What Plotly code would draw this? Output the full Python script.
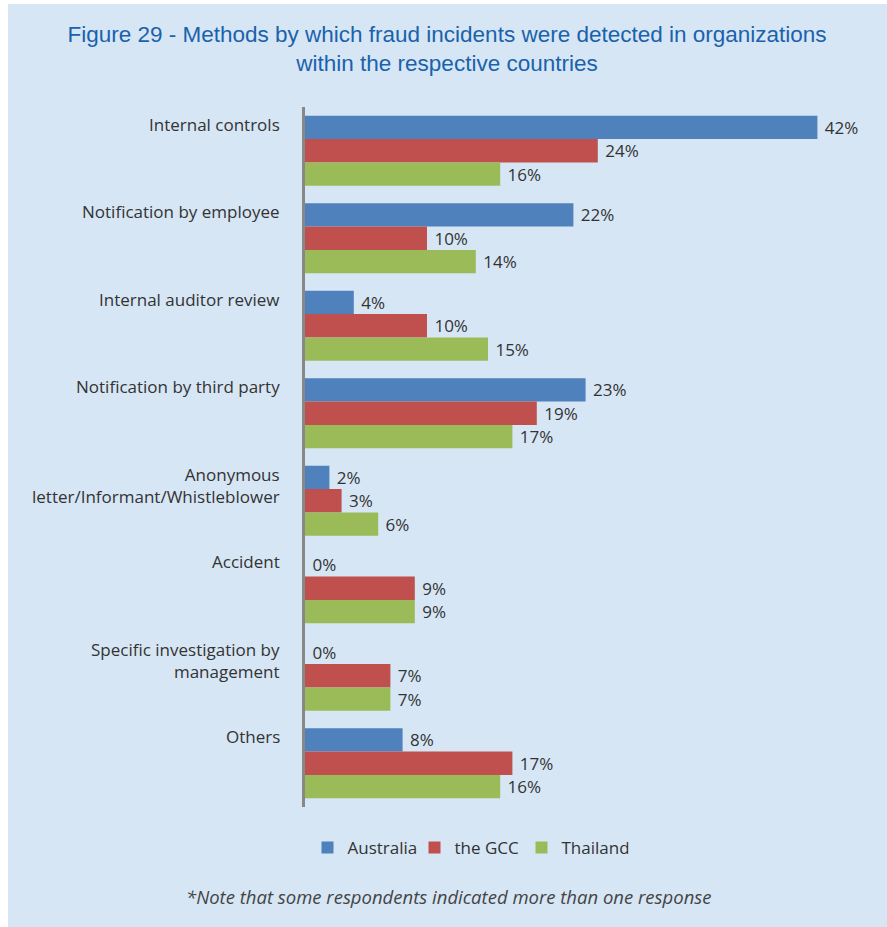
import plotly.graph_objects as go

# Detection methods, top to bottom
categories = [
    "Internal controls",
    "Notification by employee",
    "Internal auditor review",
    "Notification by third party",
    "Anonymous<br>letter/Informant/Whistleblower",
    "Accident",
    "Specific investigation by<br>management",
    "Others",
]
australia = [42, 22, 4, 23, 2, 0, 0, 8]
gcc = [24, 10, 10, 19, 3, 9, 7, 17]
thailand = [16, 14, 15, 17, 6, 9, 7, 16]

series_names = ["Australia", "the GCC", "Thailand"]
series_colors = ["#4f81bd", "#c0504d", "#9bbb59"]

W, H = 887, 927
ML, MR, MT, MB = 305, 33, 107, 120
PW = W - ML - MR
PH = H - MT - MB

BODY_FONT = "Open Sans, Liberation Sans, Arial, sans-serif"
BODY_SIZE = 17
TEXT_COLOR = "#333333"
PANEL = "#d6e6f5"

positions = list(range(len(categories)))

fig = go.Figure()
for name, vals, color in zip(series_names, [australia, gcc, thailand], series_colors):
    fig.add_trace(go.Bar(
        name=name,
        orientation="h",
        y=positions,
        x=vals,
        marker=dict(color=color, line=dict(width=0)),
        text=[f"\u00a0{v}%" for v in vals],
        textposition="outside",
        cliponaxis=False,
        textfont=dict(family=BODY_FONT, size=BODY_SIZE, color=TEXT_COLOR),
    ))

# Category labels, top-aligned to each group of bars
annotations = []
for i, cat in enumerate(categories):
    annotations.append(dict(
        x=0, xref="paper", xanchor="right", xshift=-23,
        y=i - 0.4, yref="y", yanchor="top", yshift=5,
        text=cat, showarrow=False, align="right",
        font=dict(family=BODY_FONT, size=BODY_SIZE, color=TEXT_COLOR),
    ))

# Footnote
annotations.append(dict(
    x=(448 - ML) / PW, xref="paper", xanchor="center",
    y=(H - 896 - MB) / PH, yref="paper", yanchor="middle",
    text="<i>*Note that some respondents indicated more than one response</i>",
    showarrow=False,
    font=dict(family=BODY_FONT, size=18.5, color="#444444"),
))

# Light blue panel behind the whole chart
panel = dict(
    type="rect", xref="paper", yref="paper", layer="below",
    x0=(8 - ML) / PW, x1=(W + 5 - ML) / PW,
    y0=(-5 - MB) / PH, y1=(H - 4 - MB) / PH,
    fillcolor=PANEL, line=dict(width=0),
)

fig.update_layout(
    width=W, height=H,
    margin=dict(l=ML, r=MR, t=MT, b=MB),
    paper_bgcolor="white",
    plot_bgcolor=PANEL,
    barmode="group",
    bargap=0.2,
    bargroupgap=0,
    title=dict(
        text="Figure 29 - Methods by which fraud incidents were detected in organizations<br>within the respective countries",
        x=447 / W, xanchor="center",
        y=1 - 42 / H, yanchor="middle",
        font=dict(family="Liberation Sans Narrow, Arial Narrow, Liberation Sans, sans-serif",
                  size=22.5, color="#1a62ab"),
    ),
    xaxis=dict(range=[0, 45], showgrid=False, zeroline=False, showticklabels=False,
               showline=False, ticks=""),
    yaxis=dict(range=[7.5, -0.5], showgrid=False, zeroline=False, showticklabels=False,
               ticks="", showline=True, linecolor="#888888", linewidth=3),
    legend=dict(
        orientation="h", x=(468 - ML) / PW, xanchor="center",
        y=(H - 848 - MB) / PH, yanchor="middle",
        font=dict(family=BODY_FONT, size=BODY_SIZE, color=TEXT_COLOR),
        bgcolor="rgba(0,0,0,0)",
        itemwidth=30,
        entrywidth=62,
        entrywidthmode="pixels",
        traceorder="normal",
    ),
    shapes=[panel],
    annotations=annotations,
)

fig.write_html("out.html")
